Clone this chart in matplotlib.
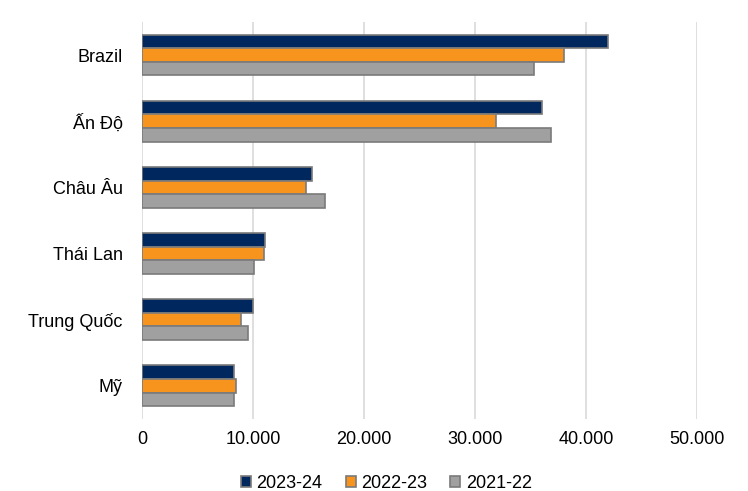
import matplotlib
matplotlib.use("Agg")
import matplotlib.pyplot as plt
import numpy as np
from matplotlib.ticker import FuncFormatter

plt.rcParams['font.family'] = ['Liberation Sans', 'DejaVu Sans']

countries = ['Brazil', 'Ấn Độ', 'Châu Âu', 'Thái Lan', 'Trung Quốc', 'Mỹ']
v_2023_24 = [42000, 36000, 15300, 11100, 10000, 8300]
v_2022_23 = [38000, 31900, 14800, 11000, 8950, 8450]
v_2021_22 = [35300, 36800, 16500, 10050, 9550, 8250]
seasons = ['2023-24', '2022-23', '2021-22']
colors = ['#00285e', '#f7941d', '#a0a0a0']

fig = plt.figure(figsize=(7.48, 4.91), dpi=100)
ax = fig.add_axes([0.19, 0.147, 0.742, 0.808])

y = np.arange(len(countries))[::-1]
h = 0.205
series = [v_2023_24, v_2022_23, v_2021_22]
for i, (vals, lab, c) in enumerate(zip(series, seasons, colors)):
    ax.barh(y + (1 - i) * h, vals, height=h, color=c, edgecolor='#7a7a7a',
            linewidth=1.2, label=lab, zorder=3)

ax.set_yticks(y)
ax.set_yticklabels(countries, fontsize=13)
ax.set_ylim(-0.5, len(countries) - 0.5)
ax.set_xlim(0, 50000)
ax.set_xticks(np.arange(0, 50001, 10000))
ax.xaxis.set_major_formatter(FuncFormatter(lambda v, p: '{:,.0f}'.format(v).replace(',', '.')))
ax.tick_params(axis='x', labelsize=13, length=0, pad=9)
ax.tick_params(axis='y', length=0, pad=14)
ax.grid(axis='x', color='#d9d9d9', linewidth=1.2, zorder=0)
for s in ax.spines.values():
    s.set_visible(False)

ax.legend(loc='upper center', bbox_to_anchor=(0.44, -0.1), ncol=3, frameon=False,
          fontsize=13, handlelength=0.55, handleheight=0.55, handletextpad=0.3,
          columnspacing=1.3)

fig.savefig('out.png', dpi=100)
